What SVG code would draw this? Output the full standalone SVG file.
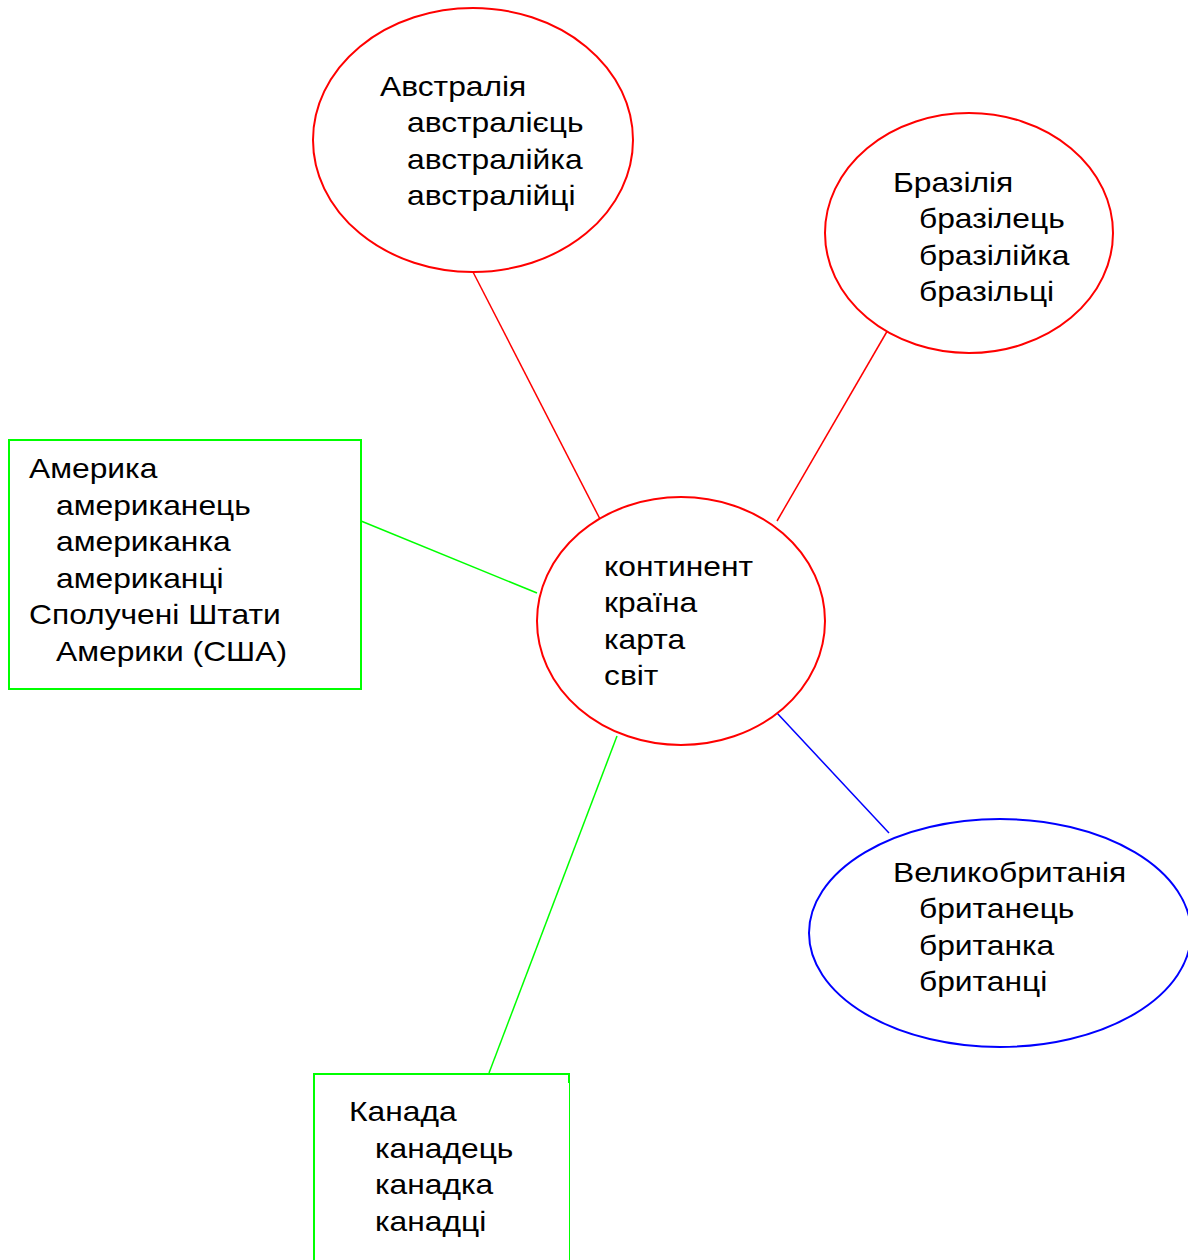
<svg xmlns="http://www.w3.org/2000/svg" width="1188" height="1260" viewBox="0 0 1188 1260">
<style>
text{font-family:"Liberation Sans",Arial,sans-serif;font-size:28px;fill:#000}
.r{fill:#fff;stroke:#ff0000;stroke-width:2}
.b{fill:#fff;stroke:#0000ff;stroke-width:2}
.g{fill:#fff;stroke:#00ff00;stroke-width:2}
.cr{stroke:#ff0000;stroke-width:1.5;fill:none}
.cg{stroke:#00ff00;stroke-width:1.5;fill:none}
.cb{stroke:#0000ff;stroke-width:1.5;fill:none}
</style>
<rect width="1188" height="1260" fill="#fff"/>
<g id="connectors">
<line class="cr" x1="473" y1="272" x2="601" y2="521"/>
<line class="cr" x1="889" y1="328" x2="777" y2="521"/>
<line class="cg" x1="361" y1="521" x2="537" y2="593"/>
<line class="cg" x1="617" y1="736" x2="489" y2="1073"/>
<line class="cb" x1="777" y1="713" x2="889" y2="833"/>
</g>
<g id="australia">
<ellipse class="r" cx="473" cy="140" rx="160" ry="132"/>
<text transform="matrix(1.135 0 0 1 380 95.5)">Австралія</text>
<text transform="matrix(1.135 0 0 1 407 132)">австралієць</text>
<text transform="matrix(1.135 0 0 1 407 168.5)">австралійка</text>
<text transform="matrix(1.135 0 0 1 407 205)">австралійці</text>
</g>
<g id="brazil">
<ellipse class="r" cx="969" cy="233" rx="144" ry="120"/>
<text transform="matrix(1.135 0 0 1 893 191.5)">Бразілія</text>
<text transform="matrix(1.135 0 0 1 919 228)">бразілець</text>
<text transform="matrix(1.135 0 0 1 919 264.5)">бразілійка</text>
<text transform="matrix(1.135 0 0 1 919 301)">бразільці</text>
</g>
<g id="america">
<rect class="g" x="9" y="440" width="352" height="249"/>
<text transform="matrix(1.135 0 0 1 29 477.5)">Америка</text>
<text transform="matrix(1.135 0 0 1 56 514.5)">американець</text>
<text transform="matrix(1.135 0 0 1 56 550.5)">американка</text>
<text transform="matrix(1.135 0 0 1 56 587.5)">американці</text>
<text transform="matrix(1.135 0 0 1 29 623.5)">Сполучені Штати</text>
<text transform="matrix(1.135 0 0 1 56 660.5)">Америки (США)</text>
</g>
<g id="center">
<ellipse class="r" cx="681" cy="621" rx="144" ry="124"/>
<text transform="matrix(1.135 0 0 1 604 575.5)">континент</text>
<text transform="matrix(1.135 0 0 1 604 612)">країна</text>
<text transform="matrix(1.135 0 0 1 604 648.5)">карта</text>
<text transform="matrix(1.135 0 0 1 604 685)">світ</text>
</g>
<g id="britain">
<ellipse class="b" cx="1000" cy="933" rx="191" ry="114"/>
<text transform="matrix(1.135 0 0 1 893 881.5)">Великобританія</text>
<text transform="matrix(1.135 0 0 1 919 918)">британець</text>
<text transform="matrix(1.135 0 0 1 919 954.5)">британка</text>
<text transform="matrix(1.135 0 0 1 919 991)">британці</text>
</g>
<g id="canada">
<path d="M314,1260 V1074 H569 V1083" fill="none" stroke="#00ff00" stroke-width="2"/>
<line x1="569.5" y1="1083" x2="569.5" y2="1260" stroke="#00ff00" stroke-width="1"/>
<text transform="matrix(1.135 0 0 1 349 1121)">Канада</text>
<text transform="matrix(1.135 0 0 1 375 1157.5)">канадець</text>
<text transform="matrix(1.135 0 0 1 375 1194)">канадка</text>
<text transform="matrix(1.135 0 0 1 375 1230.5)">канадці</text>
</g>
</svg>
